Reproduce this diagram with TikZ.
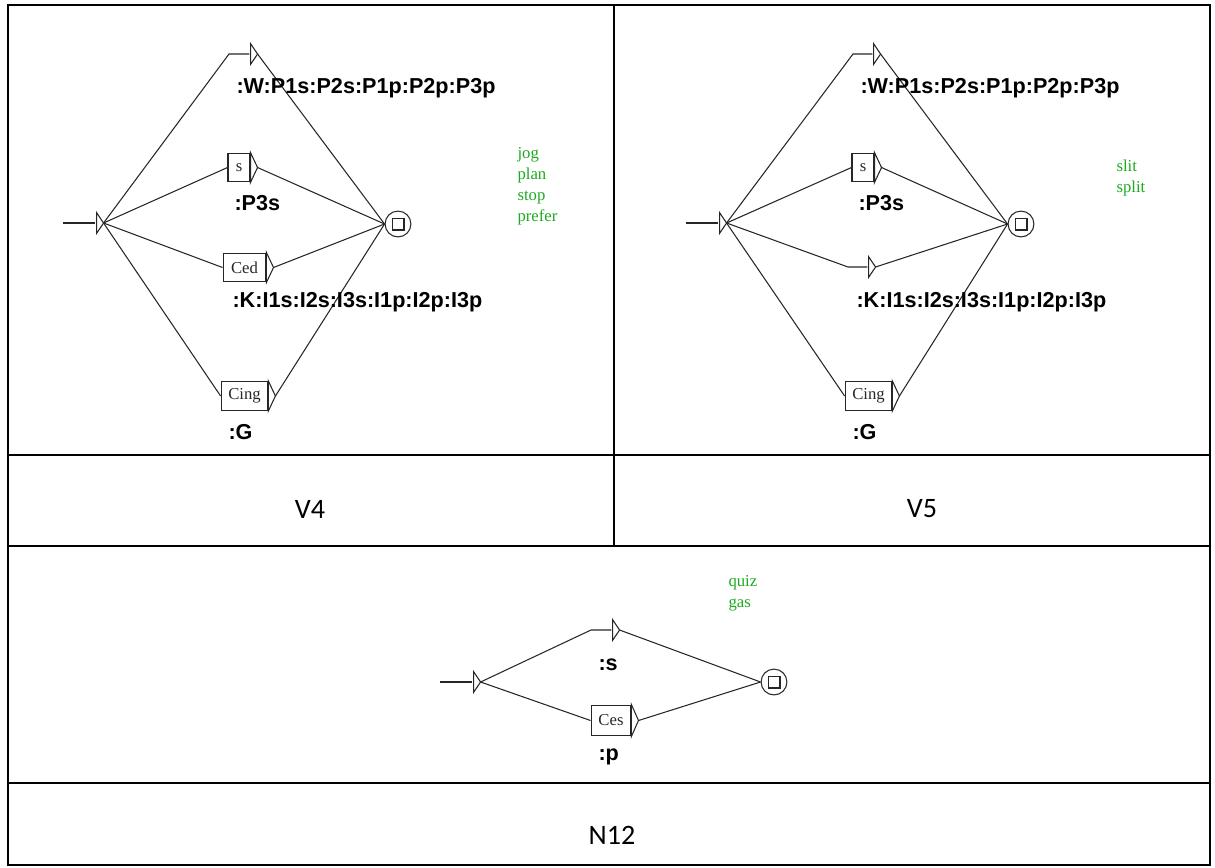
\documentclass[tikz,border=0pt]{standalone}
\usepackage{xcolor}
\usepackage{fontspec}
\setmainfont{Liberation Serif}
\newfontfamily\tagfont{Liberation Sans}
\newfontfamily\namefont{Carlito}
\usepackage{tikz}
\usetikzlibrary{positioning}

\definecolor{wordgreen}{RGB}{30,170,30}

\tikzset{
    box/.style={draw, rectangle, inner sep=0pt, inner xsep=3pt, minimum height=16.4pt, font=\fontsize{9.5}{10}\selectfont},
    eps/.style={inner sep=0pt, minimum width=0pt, minimum height=11.3pt},
    final/.style={draw, circle, inner sep=0pt, minimum size=14.7pt,
        path picture={\draw ([shift={(-3.4pt,-3.4pt)}]path picture bounding box.center) rectangle ([shift={(3.4pt,3.4pt)}]path picture bounding box.center);}},
    tag/.style={anchor=west, inner sep=0pt, text=black, font=\tagfont\bfseries\fontsize{12.3}{14}\selectfont},
    words/.style={anchor=north west, inner sep=0pt, align=left, text=wordgreen, font=\fontsize{9.5}{11.9}\selectfont},
    rowname/.style={inner sep=0pt, text=black, font=\namefont\fontsize{16}{18}\selectfont}
}

\newcommand\outtri[1]{\draw (#1.north east) -- ([xshift=4pt]#1.east) coordinate (#1-tip) -- (#1.south east) -- cycle;}

\begin{document}
\begin{tikzpicture}[x=0.02cm, y=-0.02cm, line width=0.6pt, color=black!85]
    \useasboundingbox (0,0) rectangle (1215,867);

    \draw[black, line width=0.8pt] (8,5) rectangle (1210,865);
    \draw[black, line width=0.8pt] (8,455) -- (1210,455);
    \draw[black, line width=0.8pt] (8,546) -- (1210,546);
    \draw[black, line width=0.8pt] (8,783) -- (1210,783);
    \draw[black, line width=0.8pt] (614,5) -- (614,546);

    \coordinate (v4in) at (63,223);
    \node[eps] (v4i) at (96,223) {};
    \outtri{v4i}
    \draw (v4in) -- (v4i.west);
    \node[final] (v4f) at (398,224) {};
    \coordinate (v4wbend) at (229,54);
    \node[eps] (v4w) at (250,54) {};
    \outtri{v4w}
    \node[box, minimum width=12.5pt] (v4s) at (239,167.5) {s};
    \outtri{v4s}
    \node[box, minimum width=24.4pt] (v4ced) at (244.5,267.5) {Ced};
    \outtri{v4ced}
    \node[box, minimum width=26.6pt] (v4cing) at (244.5,396) {Cing};
    \outtri{v4cing}
    \draw (v4i-tip) -- (v4wbend) -- (v4w.west);
    \draw (v4i-tip) -- (v4s.west);
    \draw (v4i-tip) -- (v4ced.west);
    \draw (v4i-tip) -- (v4cing.west);
    \draw (v4w-tip) -- (v4f.west);
    \draw (v4s-tip) -- (v4f.west);
    \draw (v4ced-tip) -- (v4f.west);
    \draw (v4cing-tip) -- (v4f.west);
    \node[tag] (v4wl) at (236,88) {:W:P1s:P2s:P1p:P2p:P3p};
    \node[tag] (v4sl) at (234,203) {:P3s};
    \node[tag] (v4cedl) at (232,302) {:K:I1s:I2s:I3s:I1p:I2p:I3p};
    \node[tag] (v4cingl) at (228,432) {:G};
    \node[words] (v4words) at (517,147) {jog\\plan\\stop\\prefer};

    \coordinate (v5in) at (686,223);
    \node[eps] (v5i) at (719,223) {};
    \outtri{v5i}
    \draw (v5in) -- (v5i.west);
    \node[final] (v5f) at (1021,224) {};
    \coordinate (v5wbend) at (853,54);
    \node[eps] (v5w) at (873,54) {};
    \outtri{v5w}
    \node[box, minimum width=12.5pt] (v5s) at (863,167.5) {s};
    \outtri{v5s}
    \coordinate (v5kbend) at (848,267);
    \node[eps] (v5k) at (868,267) {};
    \outtri{v5k}
    \node[box, minimum width=26.6pt] (v5cing) at (868.5,396) {Cing};
    \outtri{v5cing}
    \draw (v5i-tip) -- (v5wbend) -- (v5w.west);
    \draw (v5i-tip) -- (v5s.west);
    \draw (v5i-tip) -- (v5kbend) -- (v5k.west);
    \draw (v5i-tip) -- (v5cing.west);
    \draw (v5w-tip) -- (v5f.west);
    \draw (v5s-tip) -- (v5f.west);
    \draw (v5k-tip) -- (v5f.west);
    \draw (v5cing-tip) -- (v5f.west);
    \node[tag] (v5wl) at (860,88) {:W:P1s:P2s:P1p:P2p:P3p};
    \node[tag] (v5sl) at (858,203) {:P3s};
    \node[tag] (v5kl) at (856,302) {:K:I1s:I2s:I3s:I1p:I2p:I3p};
    \node[tag] (v5cingl) at (852,432) {:G};
    \node[words] (v5words) at (1116,159) {slit\\split};

    \coordinate (n12in) at (440,682);
    \node[eps] (n12i) at (473,682) {};
    \outtri{n12i}
    \draw (n12in) -- (n12i.west);
    \node[final] (n12f) at (774,682) {};
    \coordinate (n12sbend) at (591,630);
    \node[eps] (n12s) at (612,630) {};
    \outtri{n12s}
    \node[box, minimum width=22.7pt, minimum height=17.4pt] (n12ces) at (611,720.5) {Ces};
    \outtri{n12ces}
    \draw (n12i-tip) -- (n12sbend) -- (n12s.west);
    \draw (n12i-tip) -- (n12ces.west);
    \draw (n12s-tip) -- (n12f.west);
    \draw (n12ces-tip) -- (n12f.west);
    \node[tag] (n12sl) at (598,665) {:s};
    \node[tag] (n12pl) at (598,757) {:p};
    \node[words] (n12words) at (728,575) {quiz\\gas};

    \node[rowname] (v4name) at (310,509) {V4};
    \node[rowname] (v5name) at (922,509) {V5};
    \node[rowname] (n12name) at (612,835) {N12};
\end{tikzpicture}
\end{document}
